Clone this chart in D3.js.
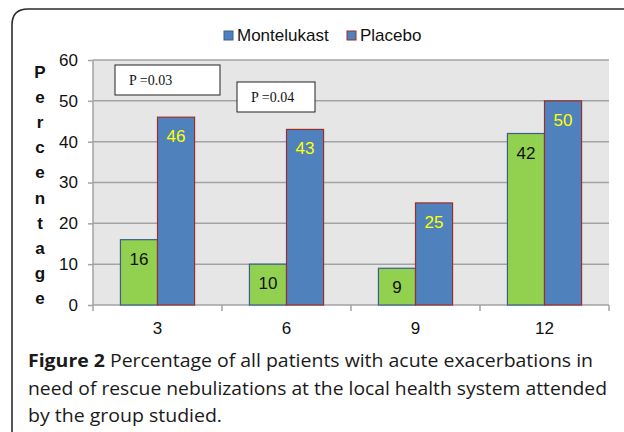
<!DOCTYPE html>
<html>
<head>
<meta charset="utf-8">
<script src="https://cdn.jsdelivr.net/npm/d3@7"></script>
<style>
  body { margin: 0; background: #fff; }
  svg { display: block; }
</style>
</head>
<body>
<div id="main"></div>
<script>
// data
const months = ["3", "6", "9", "12"];
const montelukast = [16, 10, 9, 42];
const placebo = [46, 43, 25, 50];
const seriesNames = ["Montelukast", "Placebo"];
const yTicks = [0, 10, 20, 30, 40, 50, 60];
const pLabels = ["P =0.03", "P =0.04"];
const yTitle = "Percentage";
const captionBold = "Figure 2";
const captionLines = [
    " Percentage of all patients with acute exacerbations in",
    "need of rescue nebulizations at the local health system attended",
    "by the group studied."
];

const W = 624, H = 432;
const plot = {left: 93, top: 60, right: 609, bottom: 305};
const green = "#92D050", greenEdge = "#3A5F8F",
      blue = "#4F81BD", blueEdge = "#9B2F2B";

const svg = d3.select("#main").append("svg")
    .attr("width", W).attr("height", H);

// outer frame (only top and left visible)
svg.append("path")
    .attr("d", "M12,440 V25 Q12,9 28,9 H630")
    .attr("fill", "none").attr("stroke", "#2b2b2b").attr("stroke-width", 1.6);

const x = d3.scaleBand().domain(months).range([plot.left, plot.right]);
const x1 = d3.scaleBand().domain(seriesNames)
    .range([0, x.bandwidth()]).paddingInner(0).paddingOuter(0.74);
const y = d3.scaleLinear().domain([0, 60]).range([plot.bottom, plot.top]);

// plot background
svg.append("rect")
    .attr("x", plot.left).attr("y", plot.top)
    .attr("width", plot.right - plot.left).attr("height", plot.bottom - plot.top)
    .attr("fill", "#E6E6E6");

// gridlines
svg.append("g").selectAll("line")
    .data(yTicks.filter(d => d > 0))
    .enter().append("line")
    .attr("x1", plot.left).attr("x2", plot.right)
    .attr("y1", d => y(d)).attr("y2", d => y(d))
    .attr("stroke", "#A3A3A3").attr("stroke-width", 1.5);

// y axis
const yAxis = svg.append("g")
    .attr("transform", "translate(" + plot.left + ",0)")
    .call(d3.axisLeft(y).tickValues(yTicks).tickSize(5).tickPadding(10));
yAxis.select(".domain").attr("stroke", "#A3A3A3").attr("stroke-width", 1.5)
    .attr("d", "M0," + plot.top + "V" + plot.bottom);
yAxis.selectAll(".tick line").attr("stroke", "#A3A3A3").attr("stroke-width", 1.5);
yAxis.selectAll("text")
    .attr("font-family", "Liberation Sans, Arial, sans-serif")
    .attr("font-size", 17).attr("fill", "#111");

// x axis
const xAxis = svg.append("g")
    .attr("transform", "translate(0," + plot.bottom + ")");
xAxis.append("line")
    .attr("x1", plot.left).attr("x2", plot.right)
    .attr("stroke", "#A3A3A3").attr("stroke-width", 1.5);
xAxis.selectAll(".edge")
    .data(months.map(m => x(m)).concat([plot.right]))
    .enter().append("line")
    .attr("x1", d => d).attr("x2", d => d)
    .attr("y1", 0).attr("y2", 6)
    .attr("stroke", "#A3A3A3").attr("stroke-width", 1.5);
xAxis.selectAll("text")
    .data(months).enter().append("text")
    .attr("x", d => x(d) + x.bandwidth() / 2)
    .attr("y", 29)
    .attr("text-anchor", "middle")
    .attr("font-family", "Liberation Sans, Arial, sans-serif")
    .attr("font-size", 17).attr("fill", "#111")
    .text(d => d);

// bars
const rows = months.map((m, i) => ({m: m, vals: [montelukast[i], placebo[i]]}));
const groups = svg.append("g").selectAll("g")
    .data(rows).enter().append("g")
    .attr("transform", d => "translate(" + x(d.m) + ",0)");

groups.selectAll("rect")
    .data(d => d.vals.map((v, j) => ({s: seriesNames[j], v: v})))
    .enter().append("rect")
    .attr("x", d => x1(d.s))
    .attr("width", x1.bandwidth())
    .attr("y", d => y(d.v))
    .attr("height", d => y(0) - y(d.v))
    .attr("fill", d => d.s === "Montelukast" ? green : blue)
    .attr("stroke", d => d.s === "Montelukast" ? greenEdge : blueEdge)
    .attr("stroke-width", 1.2);

groups.selectAll("text")
    .data(d => d.vals.map((v, j) => ({s: seriesNames[j], v: v})))
    .enter().append("text")
    .attr("x", d => x1(d.s) + x1.bandwidth() / 2)
    .attr("y", d => y(d.v) + 25)
    .attr("text-anchor", "middle")
    .attr("font-family", "Liberation Sans, Arial, sans-serif")
    .attr("font-size", 17)
    .attr("fill", d => d.s === "Montelukast" ? "#111" : "#FFFF00")
    .text(d => d.v);

// p-value boxes
const pBoxes = [
    {x: 115, y: 65, w: 105, h: 30},
    {x: 237, y: 82, w: 78, h: 30}
];
const pg = svg.append("g").selectAll("g")
    .data(pLabels).enter().append("g")
    .attr("transform", (d, i) => "translate(" + pBoxes[i].x + "," + pBoxes[i].y + ")");
pg.append("rect")
    .attr("width", (d, i) => pBoxes[i].w)
    .attr("height", (d, i) => pBoxes[i].h)
    .attr("fill", "#fff").attr("stroke", "#222").attr("stroke-width", 1);
pg.append("text")
    .attr("x", 14).attr("y", 20)
    .attr("font-family", "Liberation Serif, Times New Roman, serif")
    .attr("font-size", 14).attr("fill", "#111")
    .text(d => d);

// legend
const legend = svg.append("g").attr("transform", "translate(224,31)");
const legX = [0, 123];
const li = legend.selectAll("g").data(seriesNames).enter().append("g")
    .attr("transform", (d, i) => "translate(" + legX[i] + ",0)");
li.append("rect")
    .attr("width", 9).attr("height", 9)
    .attr("fill", blue)
    .attr("stroke", (d, i) => i === 0 ? greenEdge : blueEdge)
    .attr("stroke-width", 1);
li.append("text")
    .attr("x", 13).attr("y", 10)
    .attr("font-family", "Liberation Sans, Arial, sans-serif")
    .attr("font-size", 17).attr("fill", "#111")
    .text(d => d);

// y title, one letter per line
svg.append("g").selectAll("text")
    .data(yTitle.split(""))
    .enter().append("text")
    .attr("x", 40)
    .attr("y", (d, i) => 78 + i * 25.1)
    .attr("text-anchor", "middle")
    .attr("font-family", "Liberation Sans, Arial, sans-serif")
    .attr("font-weight", "bold")
    .attr("font-size", 17).attr("fill", "#111")
    .text(d => d);

// caption
const capEnds = [593, 607, 222];
const cap = svg.append("g");
captionLines.forEach(function(line, i) {
    const t = cap.append("text")
        .attr("x", 28).attr("y", 367 + i * 27.5)
        .attr("font-family", "Open Sans, Noto Sans, sans-serif")
        .attr("font-size", 18).attr("font-weight", 500).attr("fill", "#1a1a1a")
        .attr("textLength", capEnds[i] - 28)
        .attr("lengthAdjust", "spacingAndGlyphs");
    if (i === 0) {
        t.append("tspan").attr("font-weight", "bold").text(captionBold);
    }
    t.append("tspan").text(line);
});
</script>
</body>
</html>
